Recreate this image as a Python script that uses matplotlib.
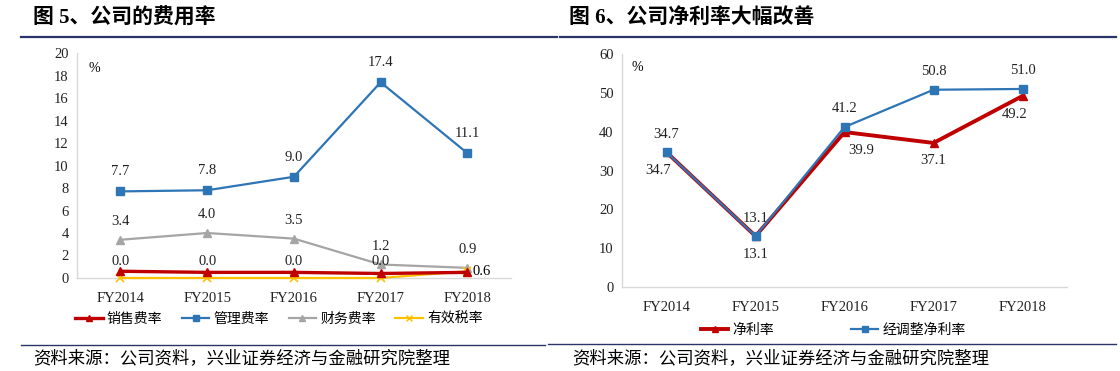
import matplotlib
matplotlib.use('Agg')
import matplotlib.pyplot as plt
from matplotlib.lines import Line2D

plt.rcParams['font.family'] = ['Liberation Serif', 'Noto Sans CJK SC']

# ── 數據 ──────────────────────────────────────────────────────────────────
years = ['FY2014', 'FY2015', 'FY2016', 'FY2017', 'FY2018']

sales_rate = [0.6, 0.5, 0.5, 0.4, 0.5]      # 销售费率
admin_rate = [7.7, 7.8, 9.0, 17.4, 11.1]    # 管理费率
fin_rate = [3.4, 4.0, 3.5, 1.2, 0.9]        # 财务费率
tax_rate = [0.0, 0.0, 0.0, 0.0, 0.6]        # 有效税率

net_margin = [34.7, 13.1, 39.9, 37.1, 49.2]      # 净利率
adj_net_margin = [34.7, 13.1, 41.2, 50.8, 51.0]  # 经调整净利率

RED = '#C00000'
BLUE = '#2E75B6'
GRAY = '#A5A5A5'
YELLOW = '#FFC000'
NAVY = '#2B3468'
SPINE = '#D9D9D9'
CJK = ['Noto Sans CJK SC', 'DejaVu Sans']

fig = plt.figure(figsize=(11.2, 3.71), dpi=100)


def style_axes(ax, ymax, step):
    ax.set_xlim(-0.5, len(years) - 0.5)
    ax.set_ylim(0, ymax)
    ax.set_yticks(range(0, ymax + 1, step))
    ax.set_xticks(range(len(years)))
    ax.set_xticklabels(years)
    for s in ['top', 'right']:
        ax.spines[s].set_visible(False)
    for s in ['left', 'bottom']:
        ax.spines[s].set_color(SPINE)
        ax.spines[s].set_linewidth(1.0)
    ax.tick_params(axis='both', length=0, labelsize=10.5, colors='#222222')
    ax.tick_params(axis='y', pad=6)
    ax.tick_params(axis='x', pad=10)


def label_points(ax, vals, dy, dx=None, idx=None):
    for i, v in enumerate(vals):
        if idx is not None and i not in idx:
            continue
        ox = dx[i] if dx is not None else 0
        ax.annotate(f'{v:.1f}', (i, v), xytext=(ox, dy), textcoords='offset points',
                    ha='center', va='center', fontsize=10.5, color='#222222')


x = list(range(len(years)))

# ── 左圖：费用率 ──────────────────────────────────────────────────────────
ax1 = fig.add_axes([0.0688, 0.2507, 0.3872, 0.6063])
style_axes(ax1, 20, 2)
ax1.plot(x, tax_rate, color=YELLOW, lw=1.6, marker='x', ms=6, mew=1.2,
         zorder=4, clip_on=False)
ax1.plot(x, fin_rate, color=GRAY, lw=1.6, marker='^', ms=6, zorder=3)
ax1.plot(x, admin_rate, color=BLUE, lw=1.6, marker='s', ms=6, zorder=4)
ax1.plot(x, sales_rate, color=RED, lw=2.4, marker='^', ms=6, zorder=5)

label_points(ax1, admin_rate, 14)
label_points(ax1, fin_rate, 13)
label_points(ax1, tax_rate, 12, idx=[0, 1, 2, 3])
ax1.annotate(f'{tax_rate[4]:.1f}', (4, tax_rate[4]), xytext=(10, 0),
             textcoords='offset points', ha='center', va='center', fontsize=10.5)
ax1.text(0.04, 0.93, '%', transform=ax1.transAxes, fontsize=10, ha='center', va='center')

leg1_handles = [
    Line2D([], [], color=RED, lw=2.4, marker='^', ms=5),
    Line2D([], [], color=BLUE, lw=1.6, marker='s', ms=5),
    Line2D([], [], color=GRAY, lw=1.6, marker='^', ms=5),
    Line2D([], [], color=YELLOW, lw=1.6, marker='x', ms=5),
]
fig.legend(leg1_handles, ['销售费率', '管理费率', '财务费率', '有效税率'],
           loc='center', bbox_to_anchor=(0.249, 0.140), ncol=4, frameon=False,
           prop={'family': CJK, 'size': 10}, handlelength=2.0, handletextpad=0.3,
           columnspacing=1.4)

# ── 右圖：净利率 ──────────────────────────────────────────────────────────
ax2 = fig.add_axes([0.5554, 0.2264, 0.3973, 0.628])
style_axes(ax2, 60, 10)
ax2.plot(x, net_margin, color=RED, lw=2.8, marker='^', ms=6, zorder=3)
ax2.plot(x, adj_net_margin, color=BLUE, lw=1.6, marker='s', ms=6, zorder=4)

label_points(ax2, adj_net_margin, 13)
label_points(ax2, net_margin, -13, dx=[-6, 0, 12, 0, -6])
ax2.text(0.035, 0.94, '%', transform=ax2.transAxes, fontsize=10, ha='center', va='center')

leg2_handles = [
    Line2D([], [], color=RED, lw=2.8, marker='^', ms=5),
    Line2D([], [], color=BLUE, lw=1.6, marker='s', ms=5),
]
fig.legend(leg2_handles, ['净利率', '经调整净利率'],
           loc='center', bbox_to_anchor=(0.744, 0.1105), ncol=2, frameon=False,
           prop={'family': CJK, 'size': 10}, handlelength=2.0, handletextpad=0.3,
           columnspacing=5.5)

# ── 標題、分隔線、資料來源 ────────────────────────────────────────────────
title_font = ['Liberation Serif', 'Noto Sans CJK SC']
fig.text(0.0295, 0.951, '图 5、公司的费用率', fontsize=15, fontweight='bold',
         family=title_font, ha='left', va='center')
fig.text(0.508, 0.951, '图 6、公司净利率大幅改善', fontsize=15, fontweight='bold',
         family=title_font, ha='left', va='center')

fig.add_artist(Line2D([0.019, 0.497], [0.900, 0.900], color=NAVY, lw=1.6))
fig.add_artist(Line2D([0.500, 0.996], [0.900, 0.900], color=NAVY, lw=1.6))
fig.add_artist(Line2D([0.019, 0.487], [0.070, 0.070], color=NAVY, lw=1.0))
fig.add_artist(Line2D([0.489, 0.996], [0.073, 0.073], color=NAVY, lw=1.0))

src = '资料来源：公司资料，兴业证券经济与金融研究院整理'
fig.text(0.0295, 0.035, src, fontsize=12.5, family=CJK, ha='left', va='center')
fig.text(0.511, 0.035, src, fontsize=12.5, family=CJK, ha='left', va='center')

fig.savefig('out.png', dpi=100)
